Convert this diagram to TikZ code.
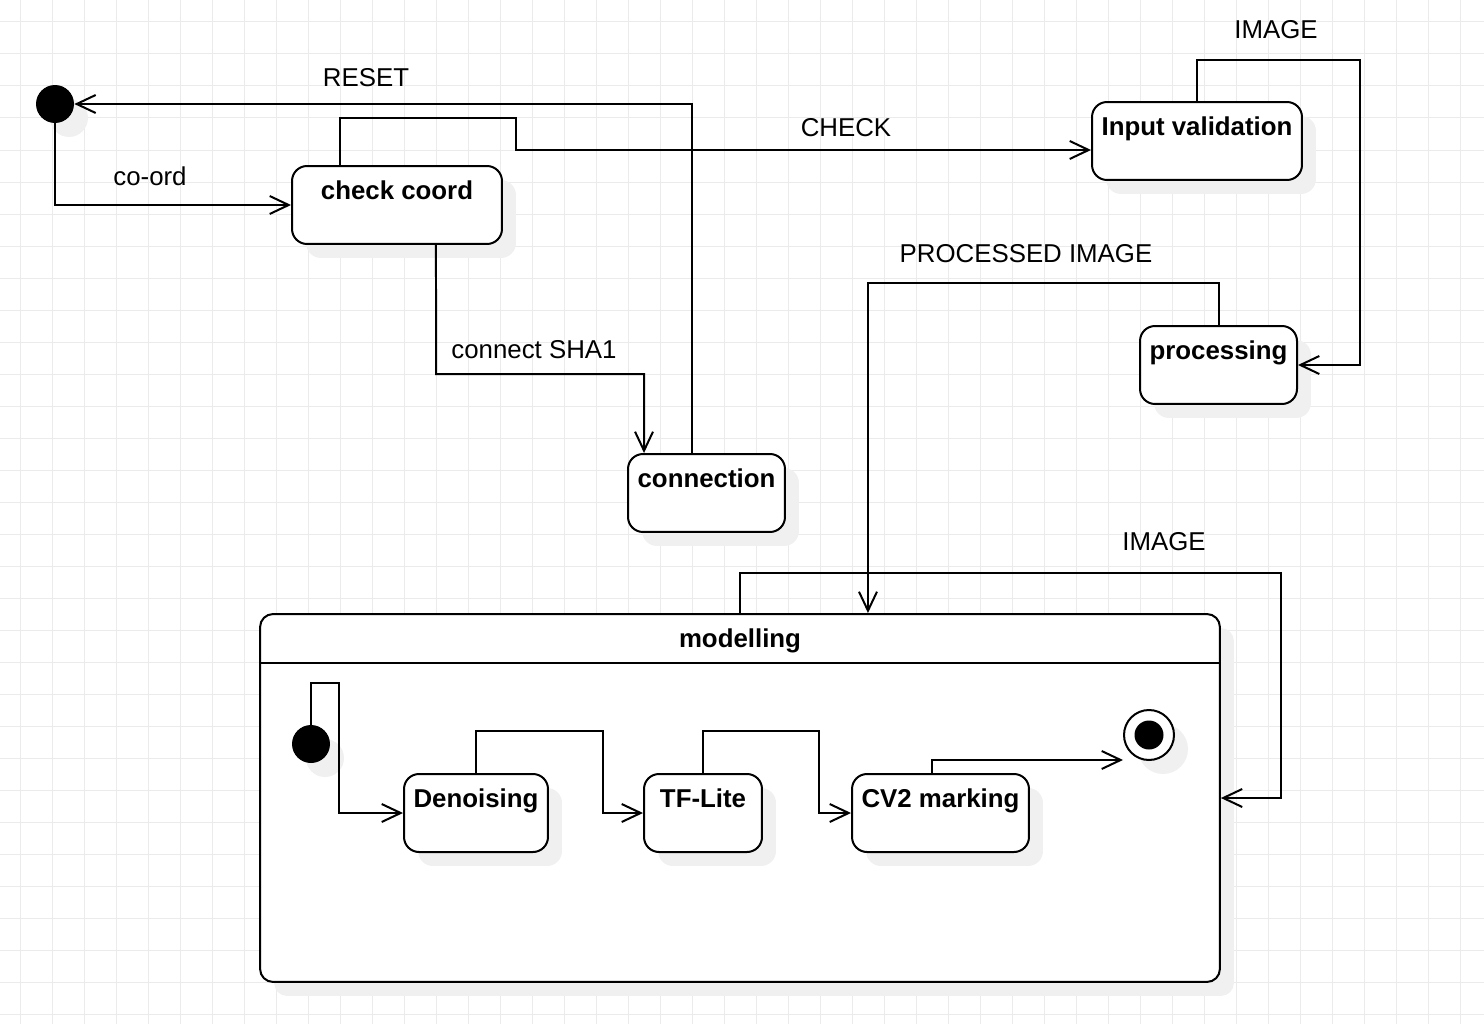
\documentclass[tikz,border=0pt]{standalone}
\usepackage{fontspec}
\setmainfont{Liberation Sans}
\usetikzlibrary{arrows.meta,shadows}

\newcommand{\dfont}{\fontsize{14.7}{17.6}\selectfont}

\tikzset{
  shade/.style={drop shadow={shadow xshift=0.28cm, shadow yshift=-0.28cm, fill=black!6, opacity=1}},
  state/.style={draw, line width=0.04cm, fill=white, rounded corners=0.3cm, inner sep=0pt,
    text height=0.66cm, text depth=0.9cm, font=\dfont\bfseries, shade},
  startdot/.style={circle, fill=black, inner sep=0pt, minimum size=0.76cm, shade},
  tr/.style={line width=0.04cm, -{Straight Barb[length=0.38cm,width=0.36cm]}},
  lbl/.style={inner sep=0pt, font=\dfont},
  gridline/.style={black!8, line width=0.02cm}
}

\begin{document}
\begin{tikzpicture}[x=0.02cm, y=-0.02cm]
\useasboundingbox (0,0) rectangle (1484,1024);
\foreach \gx in {0,...,45} \draw[gridline] (20.7+32*\gx,0) -- (20.7+32*\gx,1024);
\foreach \gy in {0,...,31} \draw[gridline] (0,22+32*\gy) -- (1484,22+32*\gy);

%%%%%%%%%%%%%%%%%%%%%%%%%%%%
\node[startdot] (init) at (55,104) {};
\node[state, minimum width=4.2cm] (cc) at (397,205) {check coord};
\node[state, minimum width=4.2cm] (iv) at (1197,141) {Input validation};
\node[state, minimum width=3.14cm] (pr) at (1218.5,365) {processing};
\node[state, minimum width=3.14cm] (conn) at (706.5,493) {connection};

%%%%%%%%%%%%%%%%%%%%%%%%%%%%
\node[state, minimum width=19.2cm, text depth=6.7cm, rounded corners=0.26cm] (mod) at (740,798) {modelling};
\draw[line width=0.04cm] ([yshift=-1cm]mod.north west) -- ([yshift=-1cm]mod.north east);

\node[startdot] (ii) at (311,744) {};
\node[state, minimum width=2.88cm] (den) at (476,813) {Denoising};
\node[state, minimum width=2.36cm] (tfl) at (703,813) {TF-Lite};
\node[state, minimum width=3.54cm] (cv) at (940.5,813) {CV2 marking};
\node[circle, draw, line width=0.04cm, fill=white, inner sep=0pt, minimum size=1cm, shade] (fin) at (1149,735) {};
\fill (fin.center) circle (0.29cm);

%%%%%%%%%%%%%%%%%%%%%%%%%%%%
\draw[tr] (init) |- (cc);
\draw[tr] ([xshift=-1.14cm]cc.north) |- (516,118) |- ([yshift=-0.18cm]iv.west);
\draw[tr] ([xshift=0.78cm]cc.south) -- (436,374) -| ([xshift=-1.25cm]conn.north);
\draw[tr] ([xshift=-0.29cm]conn.north) |- (init);
\draw[tr] (iv.north) |- (1360,60) |- (pr.east);
\draw[tr] (pr.north) -- ++(0,-42) -| ([xshift=2.56cm]mod.north);
\draw[tr] (mod.north) -- ++(0,-40) -| ([xshift=1.2cm]mod.east) -- (mod.east);

\draw[tr] (ii.north) -- ++(0,-42) -| ([xshift=-1.28cm]den.west) -- (den.west);
\draw[tr] (den.north) -- ++(0,-42) -| ([xshift=-0.8cm]tfl.west) -- (tfl.west);
\draw[tr] (tfl.north) -- ++(0,-42) -| ([xshift=-0.64cm]cv.west) -- (cv.west);
\draw[tr] ([xshift=-0.17cm]cv.north) |- ([yshift=-0.5cm]fin.west);

%%%%%%%%%%%%%%%%%%%%%%%%%%%%
\node[lbl] (lreset) at (366,78) {RESET};
\node[lbl] (lcoord) at (150,176) {co-ord};
\node[lbl] (lcheck) at (846,128) {CHECK};
\node[lbl] (lsha) at (534,350) {connect SHA1};
\node[lbl] (limg) at (1276,30) {IMAGE};
\node[lbl] (lproc) at (1026,254) {PROCESSED IMAGE};
\node[lbl] (limgb) at (1164,542) {IMAGE};
\end{tikzpicture}
\end{document}
